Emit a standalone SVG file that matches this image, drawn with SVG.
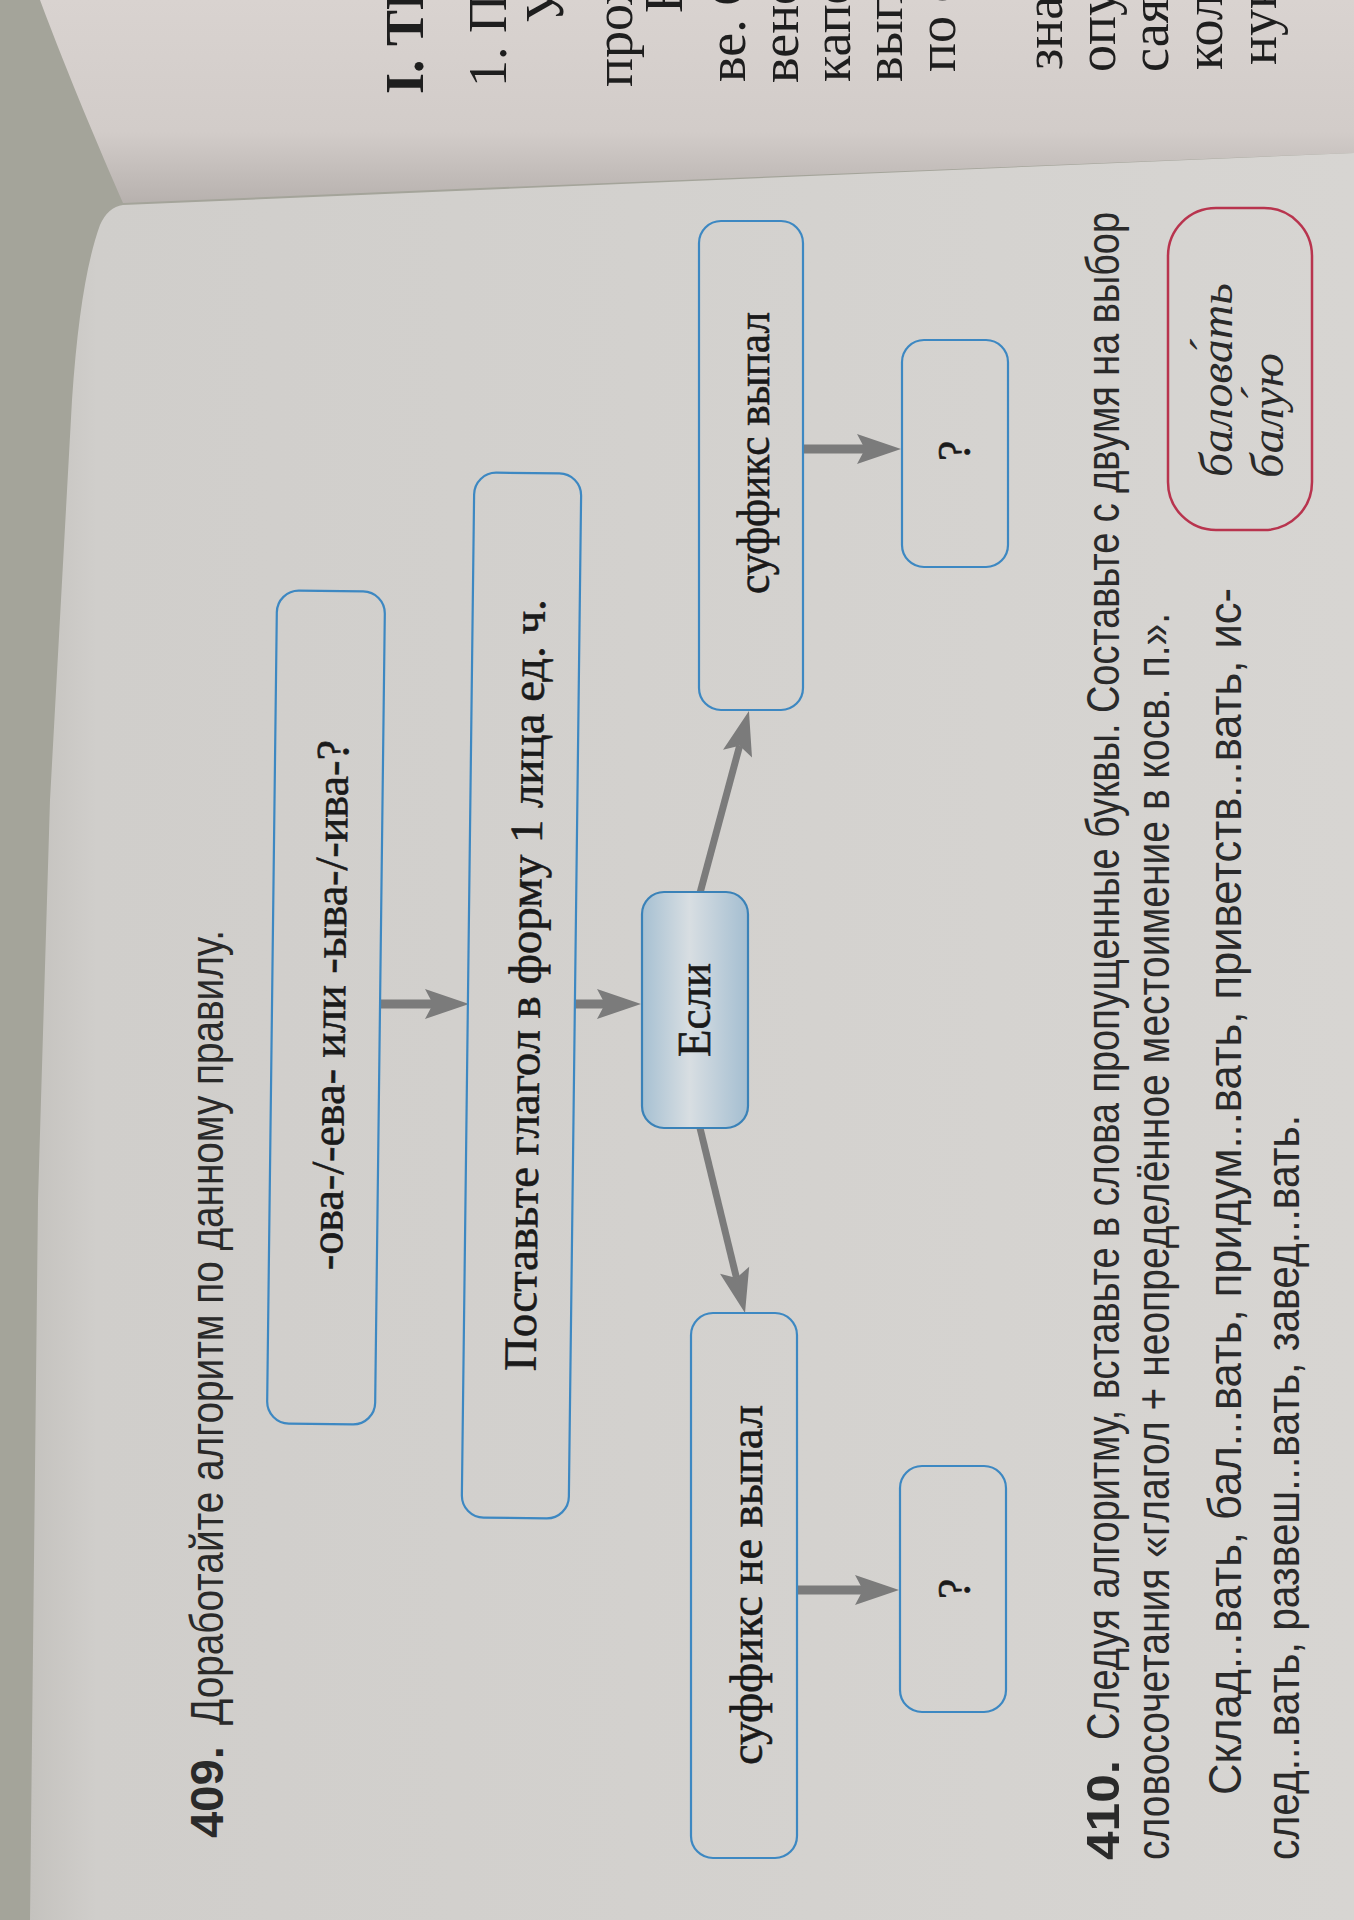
<svg xmlns="http://www.w3.org/2000/svg" width="1354" height="1920" viewBox="0 0 1354 1920">
<defs>
  <linearGradient id="pageGrad" x1="0" y1="0" x2="1" y2="0">
    <stop offset="0" stop-color="#c4c2be"/>
    <stop offset="0.05" stop-color="#d0cecb"/>
    <stop offset="1" stop-color="#d7d5d2"/>
  </linearGradient>
  <linearGradient id="upperGrad" x1="0" y1="0" x2="0" y2="1">
    <stop offset="0" stop-color="#d9d3d0"/>
    <stop offset="0.65" stop-color="#d2ccc9"/>
    <stop offset="1" stop-color="#b7b1ae"/>
  </linearGradient>
  <linearGradient id="esliGrad" x1="0" y1="0" x2="1" y2="0">
    <stop offset="0" stop-color="#a6c0d2"/>
    <stop offset="0.45" stop-color="#d8dee2"/>
    <stop offset="1" stop-color="#a4bed1"/>
  </linearGradient>
  <marker id="ah" markerUnits="userSpaceOnUse" viewBox="-46 -17 48 34" markerWidth="48" markerHeight="34" refX="-36" refY="0" orient="auto">
    <path d="M0,0 L-44,-15 L-36,0 L-44,15 Z" fill="#7b7b7b"/>
  </marker>
  <style>
    .box { fill: none; stroke: #3d88c2; stroke-width: 2.2; }
    .lbl { font-family: "Liberation Serif", "DejaVu Serif", serif; font-size: 46px; fill: #1a1a1a; stroke: #1a1a1a; stroke-width: 0.6px; }
    .body { font-family: "Liberation Sans", "DejaVu Sans", sans-serif; font-size: 46px; fill: #2a2a2a; }
    .bold { font-weight: bold; }
    .ital { font-family: "Liberation Serif", "DejaVu Serif", serif; font-style: italic; font-size: 46px; fill: #2a2a2a; }
    .up { font-family: "Liberation Serif", "DejaVu Serif", serif; font-size: 54px; fill: #1e1e1e; }
    .arrow { stroke: #7b7b7b; stroke-width: 9; fill: none; marker-end: url(#ah); }
    .diag { stroke-width: 7; }
  </style>
</defs>

<!-- background: table, upper page, main page -->
<rect x="0" y="0" width="1354" height="1920" fill="#a4a49a"/>
<path d="M40,0 L1354,0 L1354,153 L480,188 L123,203 C100,150 70,80 40,0 Z" fill="url(#upperGrad)"/>
<path d="M123,205 L480,190 L1354,153 L1354,1920 L30,1920 L38,1200 L50,800 L72,400 Q80,280 100,225 Q108,207 123,205 Z" fill="url(#pageGrad)"/>

<!-- upper page text fragments -->
<g id="upper-page">
  <text class="up bold" transform="translate(423,94) rotate(-90)">I. ТЕ</text>
  <text class="up" transform="translate(506,87) rotate(-90)">1. Пр</text>
  <text class="up" transform="translate(563,23) rotate(-90)">У</text>
  <text class="up" transform="translate(632,87) rotate(-90)">прох</text>
  <text class="up" transform="translate(682,13) rotate(-90)">Е</text>
  <text class="up" transform="translate(745,82) rotate(-90)">ве. С</text>
  <text class="up" transform="translate(798,83) rotate(-90)">венс</text>
  <text class="up" transform="translate(850,82) rotate(-90)">капе</text>
  <text class="up" transform="translate(902,82) rotate(-90)">вып</text>
  <text class="up" transform="translate(955,72) rotate(-90)">по с</text>
  <text class="up" transform="translate(1062,70) rotate(-90)">зна</text>
  <text class="up" transform="translate(1115,72) rotate(-90)">опу</text>
  <text class="up" transform="translate(1168,72) rotate(-90)">сая</text>
  <text class="up" transform="translate(1222,70) rotate(-90)">кол</text>
  <text class="up" transform="translate(1276,65) rotate(-90)">нук</text>
</g>

<!-- heading 409 -->
<g id="heading-409">
  <text class="body bold" transform="translate(223,1838) rotate(-90)" textLength="92" lengthAdjust="spacingAndGlyphs">409.</text>
  <text class="body" transform="translate(223,1725) rotate(-90)" textLength="795" lengthAdjust="spacingAndGlyphs">Доработайте алгоритм по данному правилу.</text>
</g>

<!-- connectors -->
<g id="connectors">
  <line class="arrow" x1="380" y1="1004" x2="433" y2="1004"/>
  <line class="arrow" x1="575" y1="1004" x2="605" y2="1004"/>
  <line class="arrow diag" x1="700" y1="893" x2="739.6" y2="745.8"/>
  <line class="arrow diag" x1="700" y1="1128" x2="736.5" y2="1278"/>
  <line class="arrow" x1="803" y1="449" x2="865" y2="449"/>
  <line class="arrow" x1="797" y1="1590" x2="863" y2="1590"/>
</g>

<!-- nodes -->
<g id="node-suffix-question" transform="rotate(0.7,326,1007)">
  <rect class="box" x="272" y="591" width="108" height="833" rx="22"/>
  <text class="lbl" transform="translate(345,1270) rotate(-90)" textLength="530" lengthAdjust="spacingAndGlyphs">-ова-/-ева- или -ыва-/-ива-?</text>
</g>
<g id="node-put-verb" transform="rotate(0.7,521,995)">
  <rect class="box" x="468" y="473" width="107" height="1045" rx="22"/>
  <text class="lbl" transform="translate(540,1371) rotate(-90)" textLength="772" lengthAdjust="spacingAndGlyphs">Поставьте глагол в форму 1 лица ед. ч.</text>
</g>
<g id="node-if">
  <rect x="642" y="892" width="106" height="236" rx="22" fill="url(#esliGrad)" stroke="#3a82b8" stroke-width="2.2"/>
  <text class="lbl" transform="translate(710,1057) rotate(-90)" textLength="94" lengthAdjust="spacingAndGlyphs">Если</text>
</g>
<g id="node-dropped">
  <rect class="box" x="699" y="221" width="104" height="489" rx="22"/>
  <text class="lbl" transform="translate(769,594) rotate(-90)" textLength="282" lengthAdjust="spacingAndGlyphs">суффикс выпал</text>
</g>
<g id="node-not-dropped">
  <rect class="box" x="691" y="1313" width="106" height="545" rx="22"/>
  <text class="lbl" transform="translate(762,1765) rotate(-90)" textLength="360" lengthAdjust="spacingAndGlyphs">суффикс не выпал</text>
</g>
<g id="node-q-top">
  <rect class="box" x="902" y="340" width="106" height="227" rx="22"/>
  <text class="lbl" font-size="40" transform="translate(970,461) rotate(-90)">?</text>
</g>
<g id="node-q-bottom">
  <rect class="box" x="900" y="1466" width="106" height="246" rx="22"/>
  <text class="lbl" font-size="40" transform="translate(970,1599) rotate(-90)">?</text>
</g>

<!-- exercise 410 -->
<g id="exercise-410">
  <text class="body bold" transform="translate(1119,1860) rotate(-90)" textLength="100" lengthAdjust="spacingAndGlyphs">410.</text>
  <text class="body" transform="translate(1119,1740) rotate(-90)" textLength="1528" lengthAdjust="spacingAndGlyphs">Следуя алгоритму, вставьте в слова пропущенные буквы. Составьте с двумя на выбор</text>
  <text class="body" transform="translate(1169,1860) rotate(-90)" textLength="1247" lengthAdjust="spacingAndGlyphs">словосочетания «глагол + неопределённое местоимение в косв. п.».</text>
  <text class="body" transform="translate(1241,1795) rotate(-90)" textLength="1207" lengthAdjust="spacingAndGlyphs">Склад...вать, бал...вать, придум...вать, приветств...вать, ис-</text>
  <text class="body" transform="translate(1299,1860) rotate(-90)" textLength="745" lengthAdjust="spacingAndGlyphs">след...вать, развеш...вать, завед...вать.</text>
</g>

<!-- red note box -->
<g id="note-box">
  <rect x="1168" y="208" width="144" height="322" rx="48" fill="none" stroke="#b8344e" stroke-width="2.5"/>
  <text class="ital" transform="translate(1232,477) rotate(-90)" textLength="194" lengthAdjust="spacingAndGlyphs">балова́ть</text>
  <text class="ital" transform="translate(1283,478) rotate(-90)" textLength="125" lengthAdjust="spacingAndGlyphs">балу́ю</text>
</g>
</svg>
